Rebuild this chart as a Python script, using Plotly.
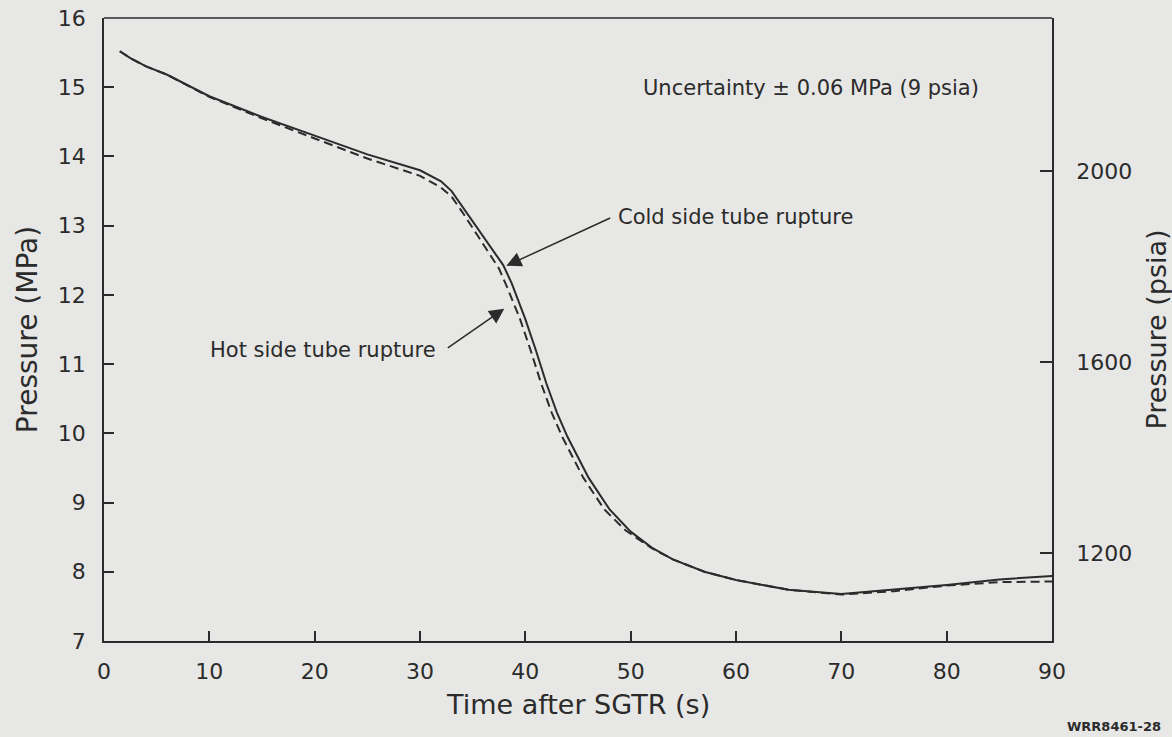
import plotly.graph_objects as go

# Cold side tube rupture (solid)
cold_t = [1.5, 2.5, 4, 6, 10, 15, 20, 25, 30, 32, 33, 34, 35.8, 37.9, 38.7, 40, 41, 42, 43, 44, 46, 48, 50, 52, 54, 57, 60, 65, 70, 75, 80, 85, 90]
cold_p = [15.52, 15.42, 15.30, 15.18, 14.87, 14.57, 14.30, 14.03, 13.80, 13.64, 13.50, 13.28, 12.89, 12.43, 12.17, 11.65, 11.20, 10.72, 10.30, 9.95, 9.36, 8.90, 8.58, 8.35, 8.18, 8.00, 7.88, 7.74, 7.68, 7.74, 7.81, 7.89, 7.94]

# Hot side tube rupture (dashed)
hot_t = [1.5, 2.5, 4, 6, 10, 15, 20, 25, 30, 32, 33, 34, 35.5, 37.5, 38.3, 39.5, 40.5, 41.5, 42.5, 43.5, 45.5, 47.5, 49.5, 52, 54, 57, 60, 65, 70, 75, 80, 85, 90]
hot_p = [15.52, 15.42, 15.30, 15.18, 14.86, 14.55, 14.26, 13.97, 13.72, 13.55, 13.42, 13.20, 12.85, 12.38, 12.10, 11.65, 11.20, 10.72, 10.30, 9.95, 9.36, 8.90, 8.60, 8.34, 8.18, 8.00, 7.88, 7.74, 7.67, 7.72, 7.80, 7.85, 7.86]

x_ticks = [0, 10, 20, 30, 40, 50, 60, 70, 80, 90]
mpa_ticks = [7, 8, 9, 10, 11, 12, 13, 14, 15, 16]
psia_ticks = [1200, 1600, 2000]
MPA_TO_PSIA = 145.038

INK = "#2b2b2b"
BG = "#e7e7e5"
FONT = "DejaVu Sans"

fig = go.Figure()
fig.add_trace(go.Scatter(x=cold_t, y=cold_p, mode="lines", line=dict(color=INK, width=2), showlegend=False, name="Cold side tube rupture"))
fig.add_trace(go.Scatter(x=hot_t, y=hot_p, mode="lines", line=dict(color=INK, width=2, dash="9px,5px"), showlegend=False, name="Hot side tube rupture"))
fig.add_trace(go.Scatter(x=[cold_t[0]], y=[cold_p[0] * MPA_TO_PSIA], yaxis="y2", mode="markers", marker=dict(opacity=0), showlegend=False, hoverinfo="skip"))

fig.update_layout(
    width=1172, height=737,
    paper_bgcolor=BG, plot_bgcolor=BG,
    margin=dict(l=104, r=120, t=18, b=96, autoexpand=False),
    font=dict(family=FONT, color=INK),
    xaxis=dict(range=[0, 90], tickvals=x_ticks, ticks="inside", ticklen=10, tickwidth=1.5, tickcolor=INK,
               showgrid=False, zeroline=False, showline=True, linecolor=INK, linewidth=1.5, mirror=False,
               tickfont=dict(size=22, color=INK), ticklabelstandoff=10, automargin=False),
    yaxis=dict(range=[7, 16], tickvals=mpa_ticks, ticks="inside", ticklen=10, tickwidth=1.5, tickcolor=INK,
               showgrid=False, zeroline=False, showline=True, linecolor=INK, linewidth=1.5, mirror=False,
               tickfont=dict(size=22, color=INK), ticklabelstandoff=12, automargin=False,
               title=dict(text="Pressure (MPa)", font=dict(size=28, color=INK), standoff=12)),
    yaxis2=dict(range=[7 * MPA_TO_PSIA, 16 * MPA_TO_PSIA], tickvals=psia_ticks, overlaying="y", side="right",
                ticks="inside", ticklen=12, tickwidth=1.5, tickcolor=INK, showgrid=False, zeroline=False,
                showline=True, linecolor=INK, linewidth=1.5, tickfont=dict(size=22, color=INK), ticklabelstandoff=18,
                automargin=False,
                title=dict(text="Pressure (psia)", font=dict(size=27, color=INK), standoff=16)),
)

# top frame line
fig.add_shape(type="line", xref="paper", yref="paper", x0=0, x1=1, y0=1, y1=1, line=dict(color=INK, width=1.5))

# x-axis title
fig.add_annotation(x=0.5, y=-0.1027, xref="paper", yref="paper", xanchor="center", yanchor="middle", showarrow=False,
                   text="Time after SGTR (s)", font=dict(size=27, color=INK))

# arrows
fig.add_annotation(x=38.2, y=12.42, ax=48.2, ay=13.12, xref="x", yref="y", axref="x", ayref="y",
                   showarrow=True, arrowhead=2, arrowsize=2, arrowwidth=1.5, arrowcolor=INK, text="")
fig.add_annotation(x=38.0, y=11.80, ax=32.5, ay=11.22, xref="x", yref="y", axref="x", ayref="y",
                   showarrow=True, arrowhead=2, arrowsize=2, arrowwidth=1.5, arrowcolor=INK, text="")

fig.add_annotation(x=48.6, y=13.12, xref="x", yref="y", xanchor="left", yanchor="middle", showarrow=False,
                   text="Cold side tube rupture", font=dict(size=21, color=INK))
fig.add_annotation(x=31.7, y=11.21, xref="x", yref="y", xanchor="right", yanchor="middle", showarrow=False,
                   text="Hot side tube rupture", font=dict(size=21, color=INK))
fig.add_annotation(x=67.1, y=14.99, xref="x", yref="y", xanchor="center", yanchor="middle", showarrow=False,
                   text="Uncertainty ± 0.06 MPa (9 psia)", font=dict(size=21, color=INK))
fig.add_annotation(x=1.117, y=-0.138, xref="paper", yref="paper", xanchor="right", yanchor="middle", showarrow=False,
                   text="<b>WRR8461-28</b>", font=dict(size=13, color=INK))

fig.write_html("out.html", config={"displayModeBar": False},
               post_script="document.body.style.margin='0px';document.body.style.background='%s';" % BG)
